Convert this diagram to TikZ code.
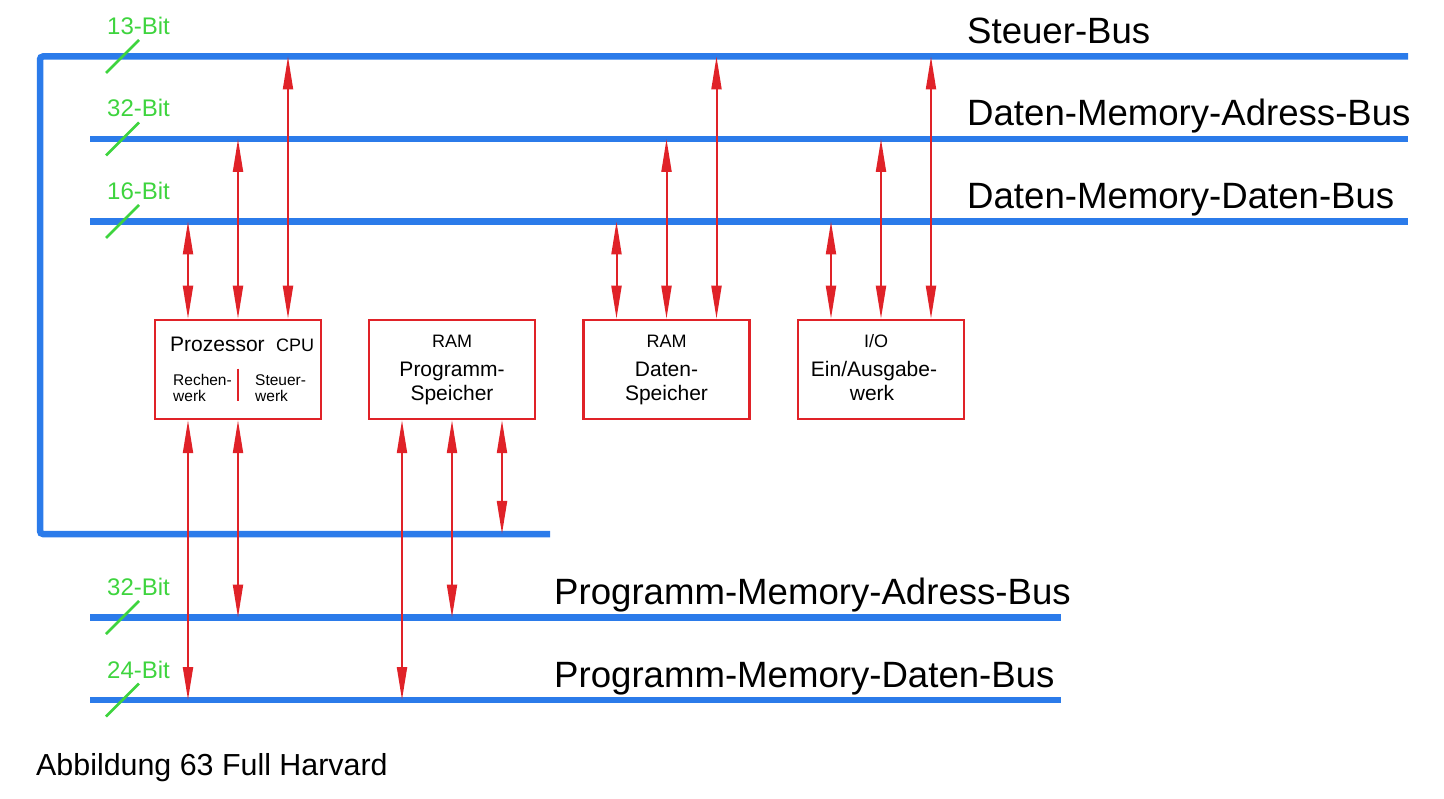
\documentclass[tikz,border=0pt]{standalone}
\usepackage{fontspec}
\setmainfont{Liberation Sans}
\usetikzlibrary{arrows.meta}
\usetikzlibrary{calc}

\definecolor{busblue}{RGB}{43,123,234}
\definecolor{unitred}{RGB}{224,34,40}
\definecolor{bitgreen}{RGB}{62,212,62}

\begin{document}
\begin{tikzpicture}[x = 1pt, y = -1pt]
	\tikzstyle{busStyle} = [draw = busblue, line width = 6.5pt]
	\tikzstyle{unitStyle} = [draw = unitred, line width = 2.5pt, minimum width = 166pt, minimum height = 99pt, inner sep = 0pt]
	\tikzstyle{signalStyle} = [draw = unitred, line width = 2pt, >={Triangle[length = 33pt, width = 10pt]}, <->]
	\tikzstyle{widthStyle} = [draw = bitgreen, line width = 2.5pt]
	\tikzstyle{busLabel} = [anchor = base west, inner sep = 0pt, font = \fontsize{36.6}{36.6}\selectfont]
	\tikzstyle{bitLabel} = [anchor = base west, inner sep = 0pt, text = bitgreen, font = \fontsize{24}{24}\selectfont]
	\tikzstyle{bigText} = [anchor = base, inner sep = 0pt, font = \fontsize{21}{21}\selectfont]
	\tikzstyle{smallText} = [anchor = base, inner sep = 0pt, font = \fontsize{18}{18}\selectfont]
	\tikzstyle{tinyText} = [anchor = base west, inner sep = 0pt, font = \fontsize{15.5}{15.5}\selectfont]
	\useasboundingbox (0, 0) rectangle (1444, 799);
	% buses
	\coordinate (sbus) at (40, 56.5);
	\coordinate (sbusEnd) at (1408, 56.5);
	\coordinate (sloop) at (550, 534);
	\coordinate (dabus) at (90, 139);
	\coordinate (dabusEnd) at (1408, 139);
	\coordinate (ddbus) at (90, 221.5);
	\coordinate (ddbusEnd) at (1408, 221.5);
	\coordinate (pabus) at (90, 617.5);
	\coordinate (pabusEnd) at (1061, 617.5);
	\coordinate (pdbus) at (90, 700);
	\coordinate (pdbusEnd) at (1061, 700);
	\draw[busStyle, rounded corners = 3pt] (sbusEnd) -- (sbus) -- (sbus |- sloop) -- (sloop);
	\draw[busStyle] (dabus) -- (dabusEnd);
	\draw[busStyle] (ddbus) -- (ddbusEnd);
	\draw[busStyle] (pabus) -- (pabusEnd);
	\draw[busStyle] (pdbus) -- (pdbusEnd);
	\node[busLabel] (sbusText) at (967, 43.5) {Steuer-Bus};
	\node[busLabel] (dabusText) at (967, 126) {Daten-Memory-Adress-Bus};
	\node[busLabel] (ddbusText) at (967, 208.5) {Daten-Memory-Daten-Bus};
	\node[busLabel] (pabusText) at (554, 604.5) {Programm-Memory-Adress-Bus};
	\node[busLabel] (pdbusText) at (554, 687) {Programm-Memory-Daten-Bus};
	% bus widths
	\coordinate (bitx) at (122.5, 0);
	\foreach \bus/\bits in {sbus/13, dabus/32, ddbus/16, pabus/32, pdbus/24} {
		\draw[widthStyle] ($(bitx |- \bus) + (-16.5, 16.5)$) -- ($(bitx |- \bus) + (16.5, -16.5)$);
		\node[bitLabel] (\bus Bits) at ($(bitx |- \bus) + (-15.5, -22)$) {\bits-Bit};
	}
	% units
	\node[unitStyle] (cpu) at (238, 369.5) {};
	\node[unitStyle] (pmem) at (452, 369.5) {};
	\node[unitStyle] (dmem) at (666.5, 369.5) {};
	\node[unitStyle] (io) at (881, 369.5) {};
	\node[bigText, anchor = base west] (cpuName) at (170, 352) {Prozessor};
	\node[smallText, anchor = base west] (cpuShort) at (276, 352) {CPU};
	\node[tinyText] (aluA) at (173, 386) {Rechen-};
	\node[tinyText] (aluB) at (173, 402) {werk};
	\node[tinyText] (ctlA) at (255, 386) {Steuer-};
	\node[tinyText] (ctlB) at (255, 402) {werk};
	\draw[unitred, line width = 2.5pt] ([yshift = -50pt]cpu.north) -- ([yshift = -82pt]cpu.north);
	\node[smallText] (pmemKind) at ([yshift = -29pt]pmem.north) {RAM};
	\node[bigText] (pmemA) at ([yshift = -58pt]pmem.north) {Programm-};
	\node[bigText] (pmemB) at ([yshift = -82pt]pmem.north) {Speicher};
	\node[smallText] (dmemKind) at ([yshift = -29pt]dmem.north) {RAM};
	\node[bigText] (dmemA) at ([yshift = -58pt]dmem.north) {Daten-};
	\node[bigText] (dmemB) at ([yshift = -82pt]dmem.north) {Speicher};
	\node[smallText] (ioKind) at ([xshift = -5pt, yshift = -29pt]io.north) {I/O};
	\node[bigText] (ioA) at ([xshift = -7pt, yshift = -58pt]io.north) {Ein/Ausgabe-};
	\node[bigText] (ioB) at ([xshift = -9pt, yshift = -82pt]io.north) {werk};
	% signals
	\foreach \unit in {cpu, dmem, io} {
		\draw[signalStyle] ([xshift = -50pt]\unit.north) -- ([xshift = -50pt]\unit.north |- ddbus);
		\draw[signalStyle] (\unit.north) -- (\unit.north |- dabus);
		\draw[signalStyle] ([xshift = 50pt]\unit.north) -- ([xshift = 50pt]\unit.north |- sbus);
	}
	\draw[signalStyle] ([xshift = -50pt]cpu.south) -- ([xshift = -50pt]cpu.south |- pdbus);
	\draw[signalStyle] (cpu.south) -- (cpu.south |- pabus);
	\draw[signalStyle] ([xshift = -50pt]pmem.south) -- ([xshift = -50pt]pmem.south |- pdbus);
	\draw[signalStyle] (pmem.south) -- (pmem.south |- pabus);
	\draw[signalStyle] ([xshift = 50pt]pmem.south) -- ([xshift = 50pt]pmem.south |- sloop);
	% caption
	\node[anchor = base west, inner sep = 0pt, font = \fontsize{30.4}{30.4}\selectfont] (caption) at (36, 775) {Abbildung 63 Full Harvard};
\end{tikzpicture}
\end{document}
